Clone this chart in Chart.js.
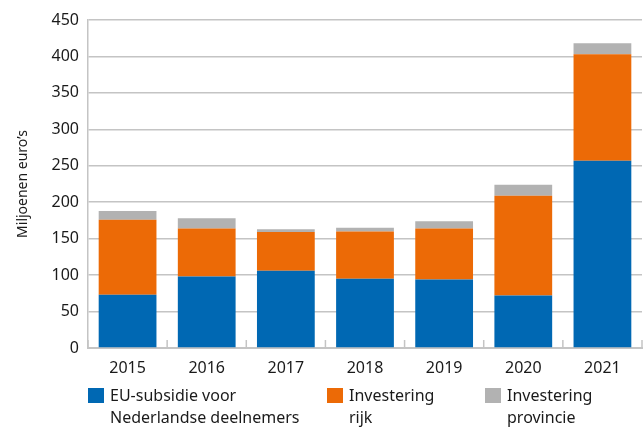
<!DOCTYPE html>
<html>
<head>
<meta charset="utf-8">
<script src="https://cdn.jsdelivr.net/npm/chart.js@4.4.0/dist/chart.umd.min.js"></script>
<style>
  html, body { margin: 0; padding: 0; background: #fff; }
  #wrap { position: relative; width: 644px; height: 428px; font-family: "Noto Sans", sans-serif; color: #1a1a1a; }
  #chart { position: absolute; left: 0; top: 0; }
  #legend { position: absolute; left: 0; top: 384px; width: 644px; height: 44px; }
  .item { position: absolute; top: 0; }
  .sw { position: absolute; left: 0; top: 4px; width: 16px; height: 15px; }
  .txt { position: absolute; left: 22px; top: 0; font-size: 16px; line-height: 22px; white-space: nowrap; }
</style>
</head>
<body>
<div id="wrap">
  <canvas id="chart" width="644" height="385"></canvas>
  <div id="legend"></div>
</div>
<script>
const years = ["2015", "2016", "2017", "2018", "2019", "2020", "2021"];
const euSubsidie = [73, 98, 106, 95, 94, 72, 257];
const investeringRijk = [103, 66, 53, 65, 70, 137, 146];
const investeringProvincie = [12, 14, 4, 5, 10, 15, 15];

const seriesNames = [
  ["EU-subsidie voor", "Nederlandse deelnemers"],
  ["Investering", "rijk"],
  ["Investering", "provincie"]
];
const seriesColors = ["#0068b3", "#ec6a06", "#b2b2b2"];
const legendLeft = [88, 327, 485];

const gridColor = "#c4c4c4";
const textColor = "#1a1a1a";

// short tick marks between the bars, pointing up from the x axis
const innerTicks = {
  id: "innerTicks",
  afterDatasetsDraw(chart) {
    const x = chart.scales.x;
    const ctx = chart.ctx;
    const bottom = chart.chartArea.bottom;
    const half = (x.getPixelForValue(1) - x.getPixelForValue(0)) / 2;
    ctx.save();
    ctx.strokeStyle = gridColor;
    ctx.lineWidth = 1.5;
    for (let i = 0; i <= years.length; i++) {
      const px = x.getPixelForValue(i) - half;
      ctx.beginPath();
      ctx.moveTo(px, bottom);
      ctx.lineTo(px, bottom - 8);
      ctx.stroke();
    }
    ctx.restore();
  }
};

const datasets = [euSubsidie, investeringRijk, investeringProvincie].map((values, i) => ({
  label: seriesNames[i].join(" "),
  data: values,
  backgroundColor: seriesColors[i],
  borderWidth: 0,
  barPercentage: 0.73,
  categoryPercentage: 1
}));

const chart = new Chart(document.getElementById("chart").getContext("2d"), {
  type: "bar",
  data: { labels: years, datasets: datasets },
  options: {
    responsive: false,
    devicePixelRatio: 1,
    animation: false,
    layout: { padding: { top: 20, right: 2, left: 0, bottom: 0 } },
    plugins: {
      legend: { display: false },
      tooltip: { enabled: false }
    },
    scales: {
      x: {
        stacked: true,
        offset: true,
        grid: { display: false, drawTicks: false },
        border: { display: true, color: gridColor, width: 2 },
        ticks: { color: textColor, padding: 11, font: { family: "Noto Sans", size: 16 } },
        afterFit(scale) { scale.height = 37; }
      },
      y: {
        stacked: true,
        min: 0,
        max: 450,
        ticks: { stepSize: 50, color: textColor, padding: 9, font: { family: "Noto Sans", size: 16 } },
        grid: { color: gridColor, lineWidth: 1.5, drawTicks: false },
        border: { display: true, color: gridColor, width: 1.5 },
        title: {
          display: true,
          text: "Miljoenen euro’s",
          color: textColor,
          padding: { top: 15, bottom: 0 },
          font: { family: "Noto Sans", size: 14 }
        },
        afterFit(scale) { scale.width = 88; }
      }
    }
  },
  plugins: [innerTicks]
});

// legend as html, built from the chart's datasets
const legend = document.getElementById("legend");
chart.data.datasets.forEach((ds, i) => {
  const item = document.createElement("div");
  item.className = "item";
  item.style.left = legendLeft[i] + "px";
  const sw = document.createElement("div");
  sw.className = "sw";
  sw.style.background = ds.backgroundColor;
  const txt = document.createElement("div");
  txt.className = "txt";
  txt.innerHTML = seriesNames[i].join("<br>");
  item.appendChild(sw);
  item.appendChild(txt);
  legend.appendChild(item);
});
</script>
</body>
</html>
